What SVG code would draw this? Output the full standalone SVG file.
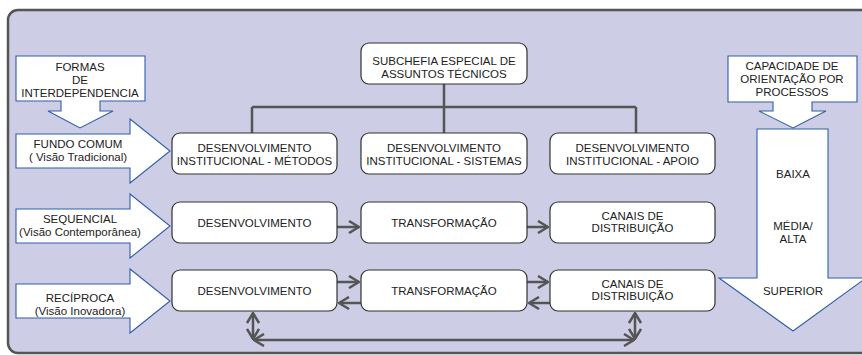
<svg xmlns="http://www.w3.org/2000/svg" width="862" height="355" viewBox="0 0 862 355">
<defs>
<style>
.frame{fill:#cdcde6;stroke:#555;stroke-width:2.5}
.box{fill:#fff;stroke:#333;stroke-width:1.2}
.blue{fill:#fff;stroke:#2f5fa8;stroke-width:1.1}
.ln{fill:none;stroke:#555;stroke-width:2.5}
text{font-family:"Liberation Sans",Arial,sans-serif;font-size:11.5px;fill:#222;text-anchor:middle}
</style>
<marker id="chev" viewBox="0 0 12 14" refX="11" refY="7" markerWidth="12" markerHeight="14" markerUnits="userSpaceOnUse" orient="auto-start-reverse">
<path d="M1,1 L11,7 L1,13" fill="none" stroke="#555" stroke-width="2.5"/>
</marker>
</defs>
<rect class="frame" x="8" y="10" width="870" height="343" rx="10"/>

<g id="connectors">
<path class="ln" d="M444,84 V107 M252,107 H636 M252,107 V133 M444,107 V133 M636,107 V133"/>
<line class="ln" x1="337" y1="227" x2="359" y2="227" marker-end="url(#chev)"/>
<line class="ln" x1="527" y1="227" x2="548" y2="227" marker-end="url(#chev)"/>
<line class="ln" x1="337" y1="282" x2="359" y2="282" marker-end="url(#chev)"/>
<line class="ln" x1="361" y1="303" x2="339" y2="303" marker-end="url(#chev)"/>
<line class="ln" x1="527" y1="282" x2="548" y2="282" marker-end="url(#chev)"/>
<line class="ln" x1="550" y1="303" x2="529" y2="303" marker-end="url(#chev)"/>
<line class="ln" x1="253" y1="313" x2="253" y2="339" marker-start="url(#chev)" marker-end="url(#chev)"/>
<line class="ln" x1="635" y1="313" x2="635" y2="339" marker-start="url(#chev)" marker-end="url(#chev)"/>
<line class="ln" x1="254" y1="340" x2="634" y2="340" marker-start="url(#chev)" marker-end="url(#chev)"/>
</g>

<g id="formas">
<path class="blue" d="M16,56 H145 V101 H100 V111 H113 L80,128 L48,111 H61 V101 H16 Z"/>
<text x="80" y="71">FORMAS</text>
<text x="80" y="84">DE</text>
<text x="80" y="97">INTERDEPENDENCIA</text>
</g>

<g id="fundo">
<path class="blue" d="M16,134 H130 V119 L170,151 L130,183 V168 H16 Z"/>
<text x="78" y="148">FUNDO COMUM</text>
<text x="78" y="161">( Visão Tradicional)</text>
</g>

<g id="sequencial">
<path class="blue" d="M16,209 H130 V194 L170,226 L130,258 V243 H16 Z"/>
<text x="80" y="223">SEQUENCIAL</text>
<text x="80" y="236">(Visão Contemporânea)</text>
</g>

<g id="reciproca">
<path class="blue" d="M16,284 H130 V269 L170,301 L130,333 V318 H16 Z"/>
<text x="80" y="302">RECÍPROCA</text>
<text x="80" y="315">(Visão Inovadora)</text>
</g>

<g id="subchefia">
<rect class="box" x="361" y="43" width="166" height="41" rx="8"/>
<text x="444" y="65">SUBCHEFIA ESPECIAL DE</text>
<text x="444" y="78">ASSUNTOS TÉCNICOS</text>
</g>

<g id="inst-metodos">
<rect class="box" x="172" y="133" width="165" height="41" rx="8"/>
<text x="254.5" y="152">DESENVOLVIMENTO</text>
<text x="254.5" y="165">INSTITUCIONAL - MÉTODOS</text>
</g>
<g id="inst-sistemas">
<rect class="box" x="361" y="133" width="166" height="41" rx="8"/>
<text x="444" y="152">DESENVOLVIMENTO</text>
<text x="444" y="165">INSTITUCIONAL - SISTEMAS</text>
</g>
<g id="inst-apoio">
<rect class="box" x="550" y="133" width="165" height="41" rx="8"/>
<text x="632.5" y="152">DESENVOLVIMENTO</text>
<text x="632.5" y="165">INSTITUCIONAL - APOIO</text>
</g>

<g id="seq-desenv">
<rect class="box" x="172" y="202" width="165" height="41" rx="8"/>
<text x="254.5" y="227">DESENVOLVIMENTO</text>
</g>
<g id="seq-transf">
<rect class="box" x="361" y="202" width="166" height="41" rx="8"/>
<text x="444" y="227">TRANSFORMAÇÃO</text>
</g>
<g id="seq-canais">
<rect class="box" x="550" y="202" width="165" height="41" rx="8"/>
<text x="632.5" y="220">CANAIS DE</text>
<text x="632.5" y="232">DISTRIBUIÇÃO</text>
</g>

<g id="rec-desenv">
<rect class="box" x="172" y="270" width="165" height="41" rx="8"/>
<text x="254.5" y="295">DESENVOLVIMENTO</text>
</g>
<g id="rec-transf">
<rect class="box" x="361" y="270" width="166" height="41" rx="8"/>
<text x="444" y="295">TRANSFORMAÇÃO</text>
</g>
<g id="rec-canais">
<rect class="box" x="550" y="270" width="165" height="41" rx="8"/>
<text x="632.5" y="288">CANAIS DE</text>
<text x="632.5" y="300">DISTRIBUIÇÃO</text>
</g>

<g id="capacidade">
<path class="blue" d="M728,56 H857 V102 H812 V111 H826 L793,128 L759,111 H773 V102 H728 Z"/>
<text x="792" y="70">CAPACIDADE DE</text>
<text x="792" y="83">ORIENTAÇÃO POR</text>
<text x="792" y="96">PROCESSOS</text>
</g>

<g id="escala">
<path class="blue" d="M757,129 H828 V278 H866 L793,331 L719,278 H757 Z"/>
<text x="793" y="178">BAIXA</text>
<text x="793" y="230">MÉDIA/</text>
<text x="793" y="243">ALTA</text>
<text x="793" y="295">SUPERIOR</text>
</g>
</svg>
